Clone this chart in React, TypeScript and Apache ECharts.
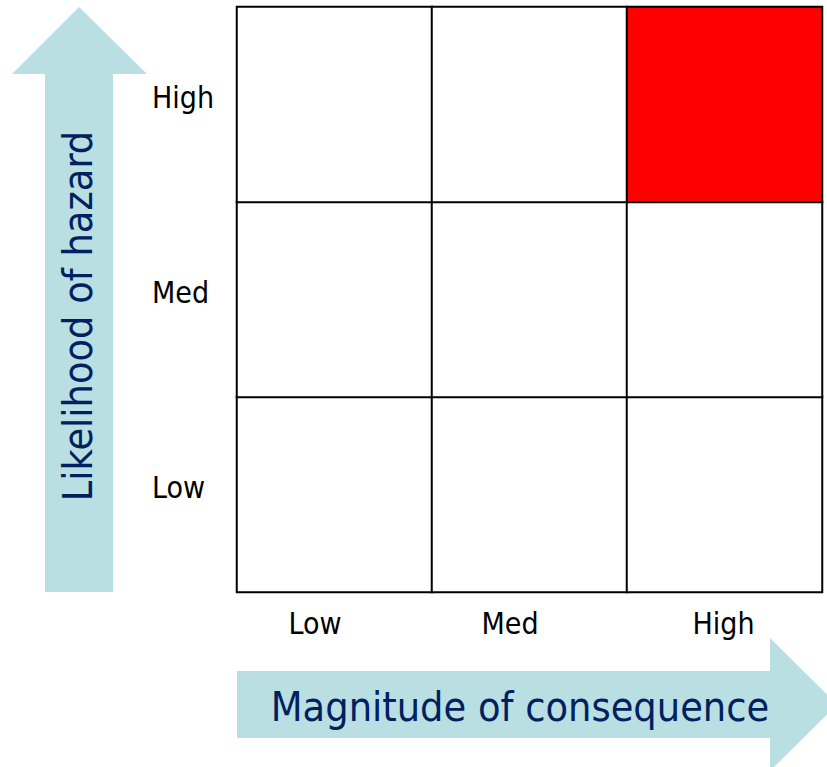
import React, { useEffect, useRef } from "react";
import * as echarts from "echarts";

const consequenceLevels = ["Low", "Med", "High"];
const likelihoodLevels = ["Low", "Med", "High"];
// rows: likelihood Low, Med, High; columns: consequence Low, Med, High
const riskFlags = [
  [0, 0, 0],
  [0, 0, 0],
  [0, 0, 1],
];
const xAxisTitle = "Magnitude of consequence";
const yAxisTitle = "Likelihood of hazard";

const FONT = "'DejaVu Sans Condensed', 'DejaVu Sans', sans-serif";
const ARROW = "#b9dfe2";
const NAVY = "#002060";

export default function App() {
  const ref = useRef<HTMLDivElement>(null);
  useEffect(() => {
    if (!ref.current) return;
    const chart = echarts.init(ref.current, null, { renderer: "svg" });
    const data: number[][] = [];
    riskFlags.forEach((row, yi) =>
      row.forEach((v, xi) => data.push([xi, yi, v]))
    );
    const xShift: Record<string, number> = { Low: 39, Med: 39, High: 2 };
    const richX: Record<string, any> = {};
    consequenceLevels.forEach((c) => {
      richX[c] = {
        fontFamily: FONT,
        fontSize: 30,
        color: "#000",
        padding: [0, xShift[c] ?? 0, 0, 0],
      };
    });
    const richY: Record<string, any> = {
      t: {
        fontFamily: FONT,
        fontSize: 30,
        color: "#000",
        padding: [0, 0, 14, 0],
      },
    };
    chart.setOption({
      animation: false,
      grid: { left: 237, top: 7, width: 585, height: 585, containLabel: false },
      xAxis: {
        type: "category",
        data: consequenceLevels,
        axisLine: { show: false },
        axisTick: { show: false },
        splitLine: { show: false },
        axisLabel: {
          margin: 31,
          verticalAlign: "middle",
          formatter: (v: string) => `{${v}|${v}}`,
          rich: richX,
        },
      },
      yAxis: {
        type: "category",
        data: likelihoodLevels,
        axisLine: { show: false },
        axisTick: { show: false },
        splitLine: { show: false },
        axisLabel: {
          margin: 85,
          align: "left",
          verticalAlign: "middle",
          formatter: (v: string) => `{t|${v}}`,
          rich: richY,
        },
      },
      visualMap: {
        show: false,
        type: "piecewise",
        dimension: 2,
        pieces: [
          { value: 0, color: "#ffffff" },
          { value: 1, color: "#ff0000" },
        ],
      },
      series: [
        {
          type: "heatmap",
          data,
          itemStyle: { borderColor: "#000", borderWidth: 2 },
          emphasis: { disabled: true },
        },
      ],
      graphic: [
        {
          type: "polygon",
          z: -1,
          shape: {
            points: [
              [45, 592],
              [113, 592],
              [113, 74],
              [147, 74],
              [79, 7],
              [12, 74],
              [45, 74],
            ],
          },
          style: { fill: ARROW },
        },
        {
          type: "polygon",
          z: -1,
          shape: {
            points: [
              [237, 671],
              [770, 671],
              [770, 638],
              [837, 704.5],
              [770, 771],
              [770, 738],
              [237, 738],
            ],
          },
          style: { fill: ARROW },
        },
        {
          type: "text",
          x: 520,
          y: 707,
          style: {
            text: xAxisTitle,
            fontFamily: FONT,
            fontSize: 41,
            fill: NAVY,
            align: "center",
            verticalAlign: "middle",
          },
        },
        {
          type: "text",
          x: 78,
          y: 316,
          rotation: Math.PI / 2,
          style: {
            text: yAxisTitle,
            fontFamily: FONT,
            fontSize: 41,
            fill: NAVY,
            align: "center",
            verticalAlign: "middle",
          },
        },
      ],
    });
    return () => chart.dispose();
  }, []);
  return (
    <div
      ref={ref}
      style={{ position: "absolute", left: 0, top: 0, width: 827, height: 767 }}
    />
  );
}
